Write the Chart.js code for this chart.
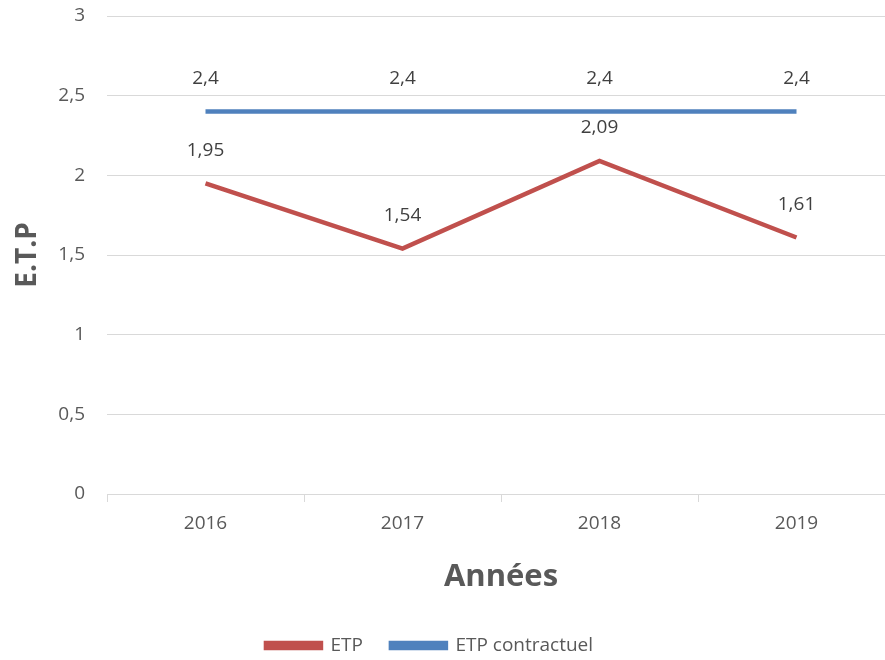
<!DOCTYPE html>
<html>
<head>
<meta charset="utf-8">
<script src="https://cdn.jsdelivr.net/npm/chart.js@4"></script>
<style>
  html, body { margin: 0; padding: 0; background: #fff; overflow: hidden; }
  #wrap { width: 895px; height: 660px; }
</style>
</head>
<body>
<div id="wrap"><canvas id="etpChart"></canvas></div>
<script>
const years = ['2016', '2017', '2018', '2019'];
const etp = [1.95, 1.54, 2.09, 1.61];
const etpContractuel = [2.4, 2.4, 2.4, 2.4];
const yTicks = [0, 0.5, 1, 1.5, 2, 2.5, 3];

const textColor = '#595959';
const fontFamily = "'Open Sans', 'Liberation Sans', sans-serif";

function frNumber(v) {
    return String(v).replace('.', ',');
}

// draw the value above each point, like the excel labels
const valueLabels = {
    id: 'valueLabels',
    afterDatasetsDraw(chart) {
        const ctx = chart.ctx;
        ctx.save();
        ctx.font = '19px ' + fontFamily;
        ctx.fillStyle = '#404040';
        ctx.textAlign = 'center';
        ctx.textBaseline = 'middle';
        chart.data.datasets.forEach(function (ds, i) {
            const meta = chart.getDatasetMeta(i);
            meta.data.forEach(function (pt, j) {
                ctx.fillText(frNumber(ds.data[j]), pt.x, pt.y - 33);
            });
        });
        ctx.restore();
    }
};

// legend sits a bit left of the middle in the original
const legendShift = {
    id: 'legendShift',
    afterLayout(chart) {
        chart.legend.left -= 18;
        chart.legend.right -= 18;
    }
};

new Chart(document.getElementById('etpChart'), {
    type: 'line',
    data: {
        labels: years,
        datasets: [{
            label: 'ETP',
            data: etp,
            borderColor: '#c0504d',
            backgroundColor: '#c0504d',
            borderWidth: 4.5,
            pointRadius: 0,
            tension: 0
        }, {
            label: 'ETP contractuel',
            data: etpContractuel,
            borderColor: '#4f81bd',
            backgroundColor: '#4f81bd',
            borderWidth: 4.5,
            pointRadius: 0,
            tension: 0
        }]
    },
    options: {
        responsive: true,
        maintainAspectRatio: false,
        animation: false,
        layout: {
            autoPadding: false,
            padding: { top: 5, right: 0, left: 0, bottom: -5 }
        },
        plugins: {
            legend: {
                position: 'bottom',
                labels: {
                    color: textColor,
                    font: { family: fontFamily, size: 19 },
                    boxWidth: 55,
                    boxHeight: 5,
                    padding: 28
                }
            },
            tooltip: { enabled: false }
        },
        scales: {
            x: {
                offset: true,
                grid: {
                    offset: true,
                    drawOnChartArea: false,
                    color: '#d9d9d9',
                    tickLength: 8
                },
                border: { color: '#d9d9d9' },
                ticks: {
                    color: textColor,
                    font: { family: fontFamily, size: 19 },
                    padding: 10
                },
                title: {
                    display: true,
                    text: 'Années',
                    color: textColor,
                    font: { family: fontFamily, size: 31, weight: 'bold' },
                    padding: { top: 14, bottom: 12 }
                }
            },
            y: {
                min: 0,
                max: 3,
                afterBuildTicks(axis) {
                    axis.ticks = yTicks.map(v => ({ value: v }));
                },
                afterFit(axis) {
                    axis.width = 107;
                    axis.paddingTop = 16;
                },
                grid: { color: '#d9d9d9', drawTicks: false },
                border: { display: false },
                ticks: {
                    color: textColor,
                    font: { family: fontFamily, size: 19 },
                    padding: 22,
                    callback: v => frNumber(v)
                },
                title: {
                    display: true,
                    text: 'E.T.P',
                    color: textColor,
                    font: { family: fontFamily, size: 28, weight: 'bold' },
                    padding: { top: 11, bottom: 0 }
                }
            }
        }
    },
    plugins: [valueLabels, legendShift]
});
</script>
</body>
</html>
